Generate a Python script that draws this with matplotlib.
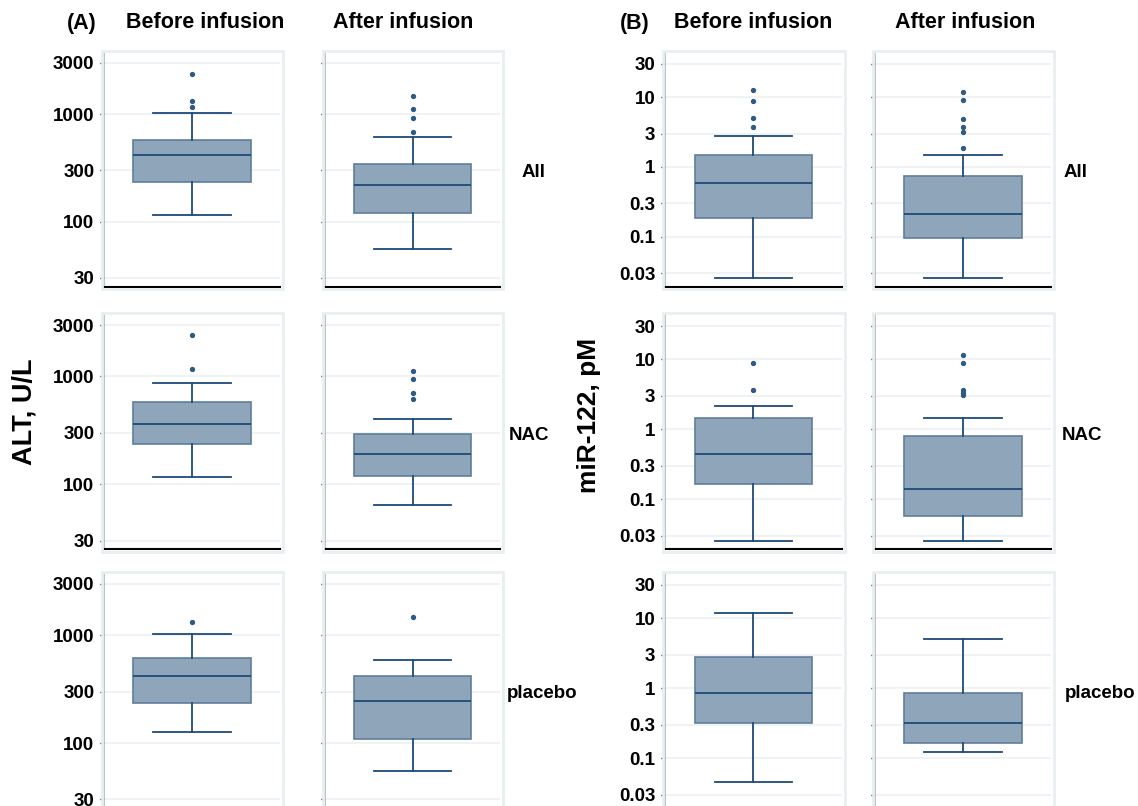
import matplotlib
matplotlib.use("Agg")
import matplotlib.pyplot as plt
from matplotlib.patches import Rectangle
from matplotlib.ticker import NullLocator, FixedLocator, FixedFormatter

plt.rcParams['font.family'] = ['Liberation Sans', 'DejaVu Sans']

# ---------------- data ----------------
groups = ["All", "NAC", "placebo"]

alt_before_whislo = [115, 116, 128]
alt_before_q1 = [236, 237, 236]
alt_before_med = [418, 359, 424]
alt_before_q3 = [573, 580, 611]
alt_before_whishi = [1030, 861, 1021]
alt_before_fliers = [[1170, 1337, 2370], [1180, 2400], [1337]]

alt_after_whislo = [56, 64, 55]
alt_after_q1 = [120, 119, 110]
alt_after_med = [220, 191, 247]
alt_after_q3 = [343, 294, 417]
alt_after_whishi = [615, 405, 585]
alt_after_fliers = [[684, 929, 1112, 1480], [614, 698, 938, 1130], [1494]]

mir_before_whislo = [0.0255, 0.0255, 0.0457]
mir_before_q1 = [0.183, 0.168, 0.317]
mir_before_med = [0.59, 0.44, 0.85]
mir_before_q3 = [1.48, 1.45, 2.79]
mir_before_whishi = [2.78, 2.13, 11.8]
mir_before_fliers = [[3.7, 4.99, 8.8, 12.6], [3.6, 8.8], []]

mir_after_whislo = [0.0255, 0.0255, 0.121]
mir_after_q1 = [0.0946, 0.057, 0.167]
mir_after_med = [0.211, 0.139, 0.313]
mir_after_q3 = [0.74, 0.80, 0.84]
mir_after_whishi = [1.48, 1.44, 5.13]
mir_after_fliers = [[1.89, 3.2, 3.8, 4.8, 9.0, 11.8], [3.07, 3.3, 3.65, 8.8, 11.6], []]

alt_ticks = [30, 100, 300, 1000, 3000]
alt_tick_labels = ["30", "100", "300", "1000", "3000"]
mir_ticks = [0.03, 0.1, 0.3, 1, 3, 10, 30]
mir_tick_labels = ["0.03", "0.1", "0.3", "1", "3", "10", "30"]

col_titles = ["Before infusion", "After infusion", "Before infusion", "After infusion"]

# ---------------- layout ----------------
W, H = 1138, 806
fig = plt.figure(figsize=(W / 100, H / 100), dpi=100)
fig.patch.set_facecolor("white")

cols_px = [(104, 280), (325, 500), (665, 842), (875, 1051)]
rows_px = [(53, 286.5), (315, 549.3), (574, 808)]

BOX_FACE = "#8fa5b9"
BOX_EDGE = "#5f7e9c"
DARK = "#1d4b78"
FRAME = "#e9eff1"
GRID = "#ebf0f1"


def fx(x):
    return x / W


def fy(y):
    return 1 - y / H


def stats(whislo, q1, med, q3, whishi, fliers, i):
    return dict(whislo=whislo[i], q1=q1[i], med=med[i], q3=q3[i],
                whishi=whishi[i], fliers=fliers[i])


panels = [
    (alt_before_whislo, alt_before_q1, alt_before_med, alt_before_q3, alt_before_whishi, alt_before_fliers, "alt", True),
    (alt_after_whislo, alt_after_q1, alt_after_med, alt_after_q3, alt_after_whishi, alt_after_fliers, "alt", False),
    (mir_before_whislo, mir_before_q1, mir_before_med, mir_before_q3, mir_before_whishi, mir_before_fliers, "mir", True),
    (mir_after_whislo, mir_after_q1, mir_after_med, mir_after_q3, mir_after_whishi, mir_after_fliers, "mir", False),
]

for r, (top, bot) in enumerate(rows_px):
    for c, (left, right) in enumerate(cols_px):
        wl, q1, md, q3, wh, fl, kind, labels = panels[c]
        # light frame around panel
        fig.patches.append(Rectangle((fx(left - 2.5), fy(bot + 2.5)),
                                     (right - left + 5) / W, (bot - top + 5) / H,
                                     transform=fig.transFigure, fill=False,
                                     edgecolor=FRAME, lw=2.0, zorder=0))
        ax = fig.add_axes([fx(left), fy(bot), (right - left) / W, (bot - top) / H])
        ax.set_yscale("log")
        ax.bxp([stats(wl, q1, md, q3, wh, fl, r)], positions=[1], widths=0.665,
               capwidths=0.44, patch_artist=True, showfliers=True,
               boxprops=dict(facecolor=BOX_FACE, edgecolor=BOX_EDGE, linewidth=1.2),
               medianprops=dict(color=DARK, linewidth=1.3),
               whiskerprops=dict(color=DARK, linewidth=1.3),
               capprops=dict(color=DARK, linewidth=1.3),
               flierprops=dict(marker="o", markersize=2.8, markerfacecolor="#2e5a84",
                               markeredgecolor="#2e5a84", linestyle="none"))
        ax.set_xlim(0.5, 1.5)
        if kind == "alt":
            ax.set_ylim(25.0, 3714)
            ticks, tlabels = alt_ticks, alt_tick_labels
        else:
            ax.set_ylim(0.0193, 43.1)
            ticks, tlabels = mir_ticks, mir_tick_labels
        ax.yaxis.set_major_locator(FixedLocator(ticks))
        ax.yaxis.set_major_formatter(FixedFormatter(tlabels if labels else [""] * len(ticks)))
        ax.yaxis.set_minor_locator(NullLocator())
        ax.set_xticks([])
        ax.tick_params(axis="y", direction="out", length=3, width=1, color="black",
                       labelsize=13.5, pad=4)
        for t in ax.get_yticklabels():
            t.set_fontweight("bold")
        ax.yaxis.grid(True, color=GRID, lw=1.1)
        ax.set_axisbelow(True)
        ax.spines["top"].set_visible(False)
        ax.spines["right"].set_visible(False)
        ax.spines["left"].set_color("#b8bfc3")
        ax.spines["left"].set_linewidth(1.3)
        ax.spines["bottom"].set_color("black")
        ax.spines["bottom"].set_linewidth(1.5)

# column titles
title_x = [205, 403, 753, 965]
for x, t in zip(title_x, col_titles):
    fig.text(fx(x), fy(23), t, ha="center", va="center", fontsize=15.5, fontweight="bold")
fig.text(fx(82), fy(23), "(A)", ha="center", va="center", fontsize=15.5, fontweight="bold")
fig.text(fx(635), fy(23), "(B)", ha="center", va="center", fontsize=15.5, fontweight="bold")

# row labels
row_label_y = [172.7, 435, 694]
row_label_xA = [522, 509, 507]
row_label_xB = [1064, 1062, 1065]
for g, y, xa, xb in zip(groups, row_label_y, row_label_xA, row_label_xB):
    fig.text(fx(xa), fy(y), g, ha="left", va="center", fontsize=13.5, fontweight="bold")
    fig.text(fx(xb), fy(y), g, ha="left", va="center", fontsize=13.5, fontweight="bold")

# y-axis labels
fig.text(fx(24), fy(412), "ALT, U/L", rotation=90, ha="center", va="center",
         fontsize=19.5, fontweight="bold")
fig.text(fx(589), fy(415), "miR-122, pM", rotation=90, ha="center", va="center",
         fontsize=19, fontweight="bold")

fig.savefig("out.png", dpi=100)
